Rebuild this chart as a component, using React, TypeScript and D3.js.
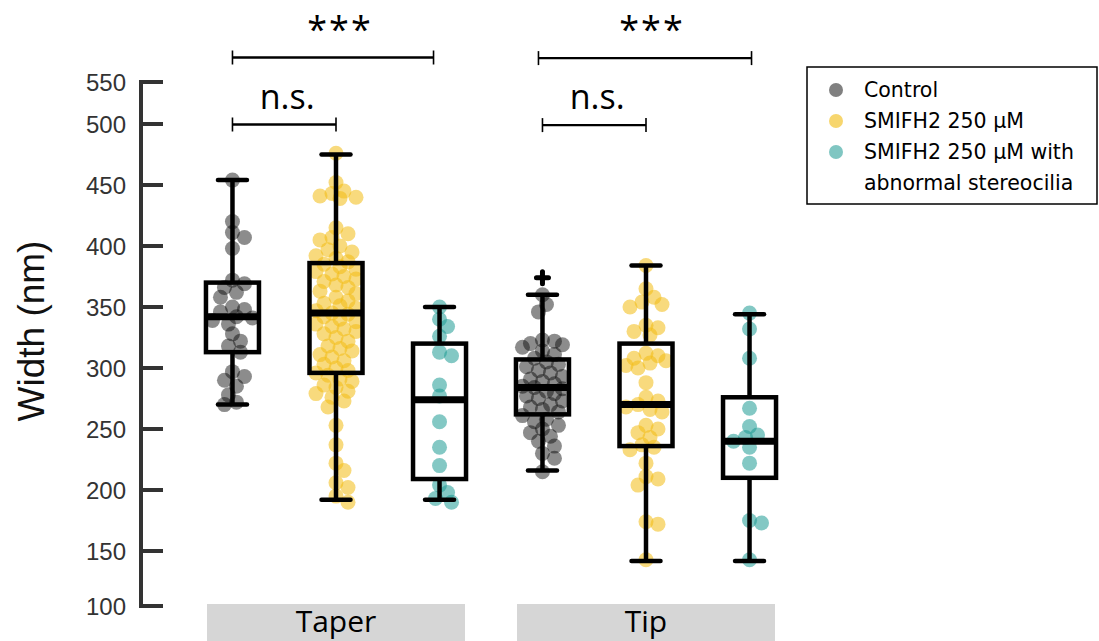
import React from "react";
import * as d3 from "d3";

const categories = ["Taper", "Tip"];
const seriesNames = ["Control", "SMIFH2 250 µM", "SMIFH2 250 µM with abnormal stereocilia"];
const seriesColors = ["#000000", "#F2BC12", "#1E9A94"];
const legendColors = ["#808080", "#F7D66E", "#80C6C2"];
const yTicks = [100, 150, 200, 250, 300, 350, 400, 450, 500, 550];

// Points (nm)
const taperControl = [454, 420, 411, 407, 398, 372, 369, 366, 362, 358, 350, 348, 346, 342, 341, 339, 336, 328, 322, 318, 313, 297, 293, 290, 285, 278, 272, 270];
const taperSmifh = [476, 452, 445, 443, 441, 440, 439, 415, 410, 407, 405, 400, 397, 395, 392, 390, 387, 385, 383, 381, 379, 377, 375, 373, 371, 368, 366, 363, 361, 358, 355, 353, 351, 349, 347, 345, 344, 342, 340, 338, 336, 334, 332, 330, 328, 325, 322, 318, 316, 314, 311, 309, 306, 303, 300, 298, 296, 294, 291, 289, 286, 284, 281, 279, 276, 273, 268, 253, 237, 222, 216, 206, 202, 195, 190];
const taperAbn = [350, 340, 334, 326, 313, 310, 286, 277, 256, 235, 220, 204, 198, 193, 190];
const tipControl = [360, 352, 346, 323, 322, 320, 319, 317, 314, 311, 308, 305, 303, 301, 298, 296, 293, 291, 289, 287, 285, 284, 283, 281, 279, 277, 275, 273, 270, 268, 266, 264, 261, 258, 256, 253, 250, 247, 244, 240, 236, 230, 226, 215];
const tipSmifh = [384, 365, 358, 354, 352, 350, 335, 333, 330, 327, 312, 310, 308, 306, 304, 302, 300, 288, 276, 273, 270, 268, 266, 264, 253, 250, 247, 243, 237, 235, 233, 222, 211, 209, 204, 174, 172, 142];
const tipAbn = [345, 332, 308, 267, 252, 245, 243, 240, 235, 222, 175, 173, 142];

// Box stats: [lower whisker, q1, median, q3, upper whisker]
const taperControlBox = [270, 313, 342, 370, 454];
const taperSmifhBox = [192, 296, 345, 386, 475];
const taperAbnBox = [192, 209, 274, 320, 350];
const tipControlBox = [216, 262, 284, 307, 360];
const tipSmifhBox = [141, 236, 270, 320, 384];
const tipAbnBox = [141, 210, 240, 276, 344];
const tipControlOutliers = [374];

const groups = [
  { cat: "Taper", s: 0, pts: taperControl, box: taperControlBox, out: [] as number[] },
  { cat: "Taper", s: 1, pts: taperSmifh, box: taperSmifhBox, out: [] as number[] },
  { cat: "Taper", s: 2, pts: taperAbn, box: taperAbnBox, out: [] as number[] },
  { cat: "Tip", s: 0, pts: tipControl, box: tipControlBox, out: tipControlOutliers },
  { cat: "Tip", s: 1, pts: tipSmifh, box: tipSmifhBox, out: [] as number[] },
  { cat: "Tip", s: 2, pts: tipAbn, box: tipAbnBox, out: [] as number[] },
];

// Significance comparisons
const sigCats = ["Taper", "Taper", "Tip", "Tip"];
const sigFrom = [0, 0, 0, 0];
const sigTo = [2, 1, 2, 1];
const sigLabels = ["***", "n.s.", "***", "n.s."];
const sigValues = [612, 500, 611, 499];

const W = 1099, H = 641;

const x0 = d3.scaleBand<string>().domain(categories).range([181, 801]).paddingInner(52 / 310).paddingOuter(26 / 310);
const x1 = d3.scalePoint<number>().domain([0, 1, 2]).range([0, x0.bandwidth()]).padding(0.246);
const y = d3.scaleLinear().domain([100, 150, 500, 550]).range([606, 551, 124, 82]);
const ySig = d3.scaleLinear().domain([500, 612]).range([124.5, 57.5]);

const R = 7.5;

function swarm(vals: number[], cx: number): { x: number; y: number }[] {
  const placed: { x: number; y: number }[] = [];
  const sorted = [...vals].sort((a, b) => b - a);
  const minD = 10.5;
  const maxOff = 22;
  for (const v of sorted) {
    const py = y(v);
    let best = 0;
    let bestScore = -1;
    let found = false;
    for (let k = 0; k < 40; k++) {
      const off = k === 0 ? 0 : (k % 2 === 1 ? 1 : -1) * Math.ceil(k / 2) * 4;
      if (Math.abs(off) > maxOff) break;
      const px = cx + off;
      const md = placed.reduce((m, p) => Math.min(m, Math.hypot(p.x - px, p.y - py)), Infinity);
      if (md >= minD) { best = off; found = true; break; }
      if (md > bestScore) { bestScore = md; best = off; }
    }
    if (!found && bestScore < 0) best = 0;
    placed.push({ x: cx + best, y: py });
  }
  return placed;
}

export default function App() {
  const axisX = 141;
  const boxW = 53;
  const capW = 29;
  const cxOf = (cat: string, s: number) => (x0(cat) as number) + (x1(s) as number);
  return (
    <svg width={W} height={H} style={{ position: "absolute", left: 0, top: 0, background: "#fff" }}>
      {/* y axis */}
      <g>
        <line x1={axisX} x2={axisX} y1={y(550) - 2} y2={y(100) + 2} stroke="#333" strokeWidth={4} />
        {yTicks.map((t) => (
          <g key={t}>
            <line x1={axisX} x2={axisX + 22} y1={y(t)} y2={y(t)} stroke="#333" strokeWidth={4} />
            <text x={126} y={y(t)} dy="0.36em" textAnchor="end" fontFamily="Liberation Sans, Arial, sans-serif" fontSize={24} fill="#333">{t}</text>
          </g>
        ))}
        <text transform={`translate(44,${331}) rotate(-90)`} textAnchor="middle" fontFamily="Liberation Sans, Arial, sans-serif" fontSize={37} fill="#111">Width (nm)</text>
      </g>
      {/* category strips */}
      {categories.map((c) => (
        <g key={c}>
          <rect x={x0(c)} y={604} width={x0.bandwidth()} height={40} fill="#D6D6D6" />
          <text x={(x0(c) as number) + x0.bandwidth() / 2} y={632} textAnchor="middle" fontFamily="Open Sans, sans-serif" fontSize={30} fill="#000">{c}</text>
        </g>
      ))}
      {/* points */}
      {groups.map((g, i) => {
        const cx = cxOf(g.cat, g.s);
        return (
          <g key={"p" + i}>
            {swarm(g.pts, cx).map((p, j) => (
              <circle key={j} cx={p.x} cy={p.y} r={R} fill={seriesColors[g.s]} fillOpacity={g.s === 0 ? 0.45 : 0.55} />
            ))}
          </g>
        );
      })}
      {/* boxes */}
      {groups.map((g, i) => {
        const cx = cxOf(g.cat, g.s);
        const [lo, q1, med, q3, hi] = g.box;
        return (
          <g key={"b" + i} stroke="#000" fill="none">
            <line x1={cx} x2={cx} y1={y(hi)} y2={y(q3)} strokeWidth={4.5} />
            <line x1={cx} x2={cx} y1={y(q1)} y2={y(lo)} strokeWidth={4.5} />
            <line x1={cx - capW / 2} x2={cx + capW / 2} y1={y(hi)} y2={y(hi)} strokeWidth={4.5} strokeLinecap="round" />
            <line x1={cx - capW / 2} x2={cx + capW / 2} y1={y(lo)} y2={y(lo)} strokeWidth={4.5} strokeLinecap="round" />
            <rect x={cx - boxW / 2} y={y(q3)} width={boxW} height={y(q1) - y(q3)} strokeWidth={4.5} />
            <line x1={cx - boxW / 2} x2={cx + boxW / 2} y1={y(med)} y2={y(med)} strokeWidth={7} />
            {g.out.map((o, k) => (
              <g key={k}>
                <line x1={cx - 6} x2={cx + 6} y1={y(o)} y2={y(o)} strokeWidth={5} strokeLinecap="round" />
                <line x1={cx} x2={cx} y1={y(o) - 6} y2={y(o) + 6} strokeWidth={5} strokeLinecap="round" />
              </g>
            ))}
          </g>
        );
      })}
      {/* significance */}
      {sigLabels.map((lab, i) => {
        const xa = cxOf(sigCats[i], sigFrom[i]) - (sigCats[i] === "Tip" && sigTo[i] === 2 ? 4 : 0);
        const xb = cxOf(sigCats[i], sigTo[i]) - (sigTo[i] === 2 && sigCats[i] === "Taper" ? 6 : 0) + (sigTo[i] === 2 && sigCats[i] === "Tip" ? 2 : 0);
        const yy = ySig(sigValues[i]);
        const isStar = lab === "***";
        return (
          <g key={"s" + i}>
            <g stroke="#000" strokeWidth={2.4}>
              <line x1={xa} x2={xb} y1={yy} y2={yy} />
              <line x1={xa} x2={xa} y1={yy - 7} y2={yy + 7} strokeWidth={1.6} />
              <line x1={xb} x2={xb} y1={yy - 7} y2={yy + 7} strokeWidth={1.6} />
            </g>
            <text x={(xa + xb) / 2 + (isStar ? 7 : 3)} y={isStar ? yy - 16 : yy - 16} textAnchor="middle" fontFamily="Open Sans, sans-serif" fontSize={isStar ? 36 : 34} letterSpacing={isStar ? 2 : 0} fill="#000">{lab}</text>
          </g>
        );
      })}
      {/* legend */}
      <g>
        <rect x={807} y={67} width={290} height={137} fill="#fff" stroke="#000" strokeWidth={1.5} />
        {seriesNames.map((n, i) => (
          <circle key={n} cx={836} cy={90 + i * 31} r={7} fill={legendColors[i]} />
        ))}
        <g fontFamily="DejaVu Sans, Verdana, sans-serif" fontSize={20.5} fill="#000">
          <text x={864} y={97}>Control</text>
          <text x={864} y={128}>SMIFH2 250 µM</text>
          <text x={864} y={159}>SMIFH2 250 µM with</text>
          <text x={864} y={190}>abnormal stereocilia</text>
        </g>
      </g>
    </svg>
  );
}
